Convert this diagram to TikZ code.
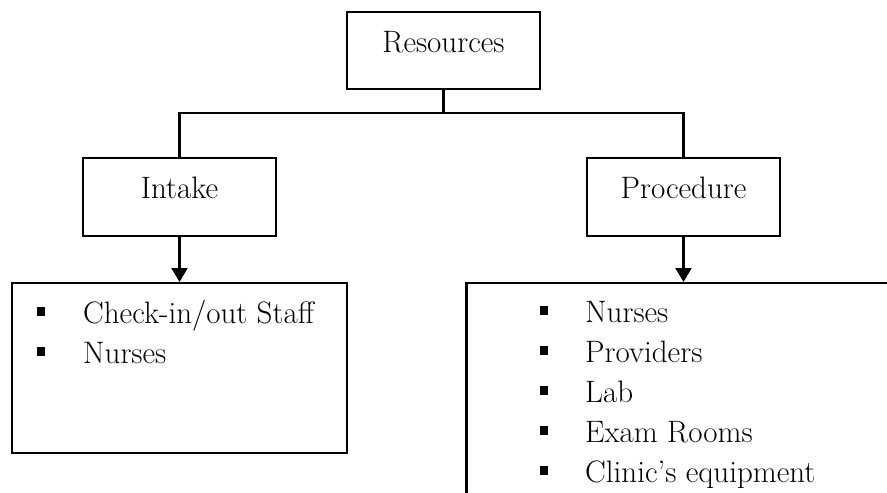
\documentclass[tikz,border=0pt]{standalone}
\usetikzlibrary{arrows.meta}
\begin{document}
\begin{tikzpicture}[x=1pt,y=-1pt,
  box/.style={draw=black, line width=2.4pt, rectangle, inner sep=0pt, fill=none},
  lbl/.style={font=\fontsize{31}{40}\selectfont, inner sep=0pt, text=black},
  bul/.style={fill=black, rectangle, minimum size=8.5pt, inner sep=0pt},
  conn/.style={line width=2.4pt},
  arr/.style={line width=2.4pt, -{Triangle[length=14pt,width=16pt]}}]
\clip (0,0) rectangle (887,493);
\fill[white] (0,0) rectangle (887,493);
% top box
\node[box, minimum width=193pt, minimum height=77pt] (res) at (443.5,50.5) {};
\node[lbl, anchor=base] (resT) at (443.5,52) {Resources};
% second level
\node[box, minimum width=193pt, minimum height=78pt] (intake) at (179.5,197) {};
\node[lbl, anchor=base] (intakeT) at (179.5,198) {Intake};
\node[box, minimum width=193pt, minimum height=78pt] (proc) at (683.5,197) {};
\node[lbl, anchor=base] (procT) at (683.5,198) {Procedure};
% list boxes
\node[box, anchor=north, minimum width=335pt, minimum height=170pt] (ilist) at (179.5,282) {};
\node[box, anchor=north, minimum width=434pt, minimum height=250pt] (plist) at (683.5,282) {};
% connectors
\coordinate (split) at (443.5,113);
\draw[conn] (res.south) -- (split);
\draw[conn] (split) -| (intake.north);
\draw[conn] (split) -| (proc.north);
\draw[arr] (intake.south) -- (ilist.north);
\draw[arr] (proc.south) -- (plist.north);
% intake items
\node[bul] (ib1) at (41,311.5) {};
\node[lbl, anchor=base west] (it1) at (83,323) {Check-in/out Staff};
\node[bul] (ib2) at (41,351.5) {};
\node[lbl, anchor=base west] (it2) at (83,363) {Nurses};
% procedure items
\node[bul] (pb1) at (544,310.5) {};
\node[lbl, anchor=base west] (pt1) at (585,322) {Nurses};
\node[bul] (pb2) at (544,350.5) {};
\node[lbl, anchor=base west] (pt2) at (585,362) {Providers};
\node[bul] (pb3) at (544,390.5) {};
\node[lbl, anchor=base west] (pt3) at (585,402) {Lab};
\node[bul] (pb4) at (544,430.5) {};
\node[lbl, anchor=base west] (pt4) at (585,442) {Exam Rooms};
\node[bul] (pb5) at (544,470.5) {};
\node[lbl, anchor=base west] (pt5) at (585,482) {Clinic’s equipment};
\end{tikzpicture}
\end{document}
